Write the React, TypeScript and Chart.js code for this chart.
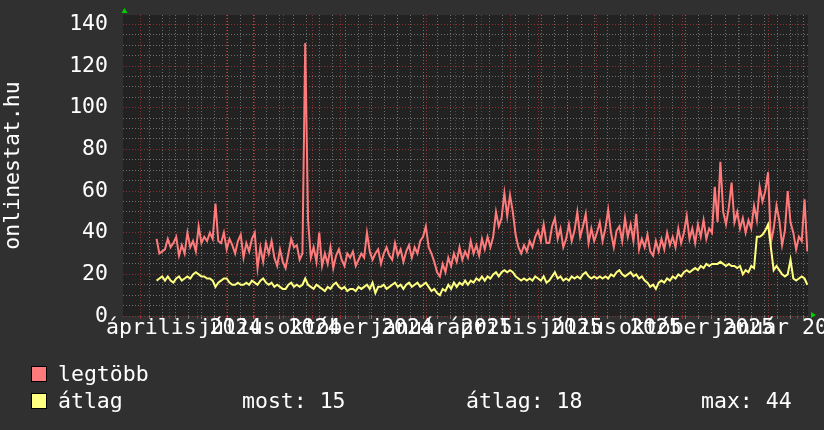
import React, { useEffect, useRef } from 'react';
import { Chart, registerables } from 'chart.js';

Chart.register(...registerables);

// ---- data -------------------------------------------------------------
const SERIES_NAMES = ['legtöbb', 'átlag'];
const AXIS_TITLE = 'onlinestat.hu';
const ORIGIN = Date.UTC(2024, 2, 1); // x = days since 2024-03-01
const FIRST_DAY = 17; // 2024-03-18
const STEP_DAYS = 3;
const X_MIN = -18.9;
const X_MAX = 713.7;
const Y_MAX = 144.5;

const LEGTOBB = [
  37, 30, 31, 32, 37, 33, 35, 38, 29, 34, 30, 40, 33, 36, 31, 43, 35, 38, 36, 40,
  37, 54, 36, 35, 40, 32, 37, 34, 30, 36, 39, 28, 35, 31, 37, 40, 23, 33, 26, 35,
  30, 36, 28, 24, 32, 26, 23, 30, 37, 33, 34, 27, 30, 131, 46, 28, 33, 26, 40, 24,
  30, 25, 33, 23, 29, 32, 27, 24, 30, 28, 31, 24, 27, 30, 28, 40, 31, 27, 30, 32,
  25, 30, 33, 29, 27, 35, 29, 32, 26, 31, 34, 28, 33, 30, 36, 38, 43, 33, 30, 26,
  21, 19, 25, 21, 28, 24, 30, 26, 33, 27, 31, 28, 36, 30, 34, 29, 37, 32, 38, 33,
  38, 50, 43, 47, 59, 48, 58, 50, 39, 33, 30, 34, 31, 36, 33, 38, 41, 36, 44, 35,
  35, 43, 47, 37, 42, 33, 37, 44, 36, 41, 50, 38, 43, 49, 35, 42, 36, 40, 45, 36,
  42, 51, 40, 33, 41, 43, 36, 47, 38, 44, 36, 49, 32, 37, 33, 39, 31, 29, 36, 31,
  37, 32, 40, 34, 38, 33, 42, 35, 40, 48, 37, 42, 35, 44, 38, 46, 37, 42, 40, 62,
  45, 74, 50, 44, 52, 64, 45, 50, 42, 47, 40, 46, 42, 53, 46, 62, 55, 60, 69, 35,
  42, 53, 46, 34, 41, 60, 45, 40, 32, 38, 36, 56, 31,
];

const ATLAG = [
  17, 18, 19, 17, 19, 17, 16, 18, 19, 17, 18, 19, 18, 20, 21, 20, 19, 19, 18, 18,
  17, 14, 16, 17, 18, 18, 16, 15, 15, 16, 15, 15, 16, 15, 17, 16, 15, 17, 18, 16,
  15, 16, 14, 15, 14, 13, 13, 15, 16, 14, 15, 14, 15, 18, 15, 14, 13, 15, 14, 13,
  12, 14, 13, 15, 16, 14, 13, 14, 12, 13, 13, 12, 14, 13, 14, 15, 13, 16, 11, 14,
  14, 15, 13, 14, 15, 16, 14, 15, 13, 15, 16, 14, 15, 16, 14, 15, 16, 14, 12, 13,
  11, 10, 13, 12, 15, 13, 16, 14, 16, 15, 17, 15, 17, 16, 18, 17, 19, 17, 19, 18,
  20, 21, 19, 21, 22, 21, 22, 21, 19, 18, 17, 18, 17, 18, 17, 19, 18, 17, 19, 16,
  17, 19, 21, 18, 19, 17, 18, 17, 19, 18, 19, 18, 20, 21, 19, 18, 19, 18, 19, 18,
  19, 18, 20, 19, 21, 22, 20, 19, 20, 21, 19, 20, 18, 19, 17, 16, 14, 15, 13, 16,
  17, 16, 18, 17, 19, 18, 20, 19, 21, 22, 21, 22, 23, 22, 24, 23, 25, 24, 25, 25,
  25, 26, 25, 24, 25, 24, 24, 23, 24, 20, 22, 21, 24, 23, 38, 38, 39, 41, 44, 33,
  22, 24, 22, 20, 19, 20, 27, 18, 17, 18, 19, 18, 15,
];

const X_LABELS = [
  'április 2024', 'július 2024', 'október 2024', 'január 2025',
  'április 2025', 'július 2025', 'október 2025', 'január 2026',
];
const X_LABEL_MONTHS: [number, number][] = [
  [2024, 3], [2024, 6], [2024, 9], [2025, 0],
  [2025, 3], [2025, 6], [2025, 9], [2026, 0],
];
const Y_GRID = [0, 5, 10, 15, 20, 25, 30, 35, 40, 45, 50, 55, 60, 65, 70, 75, 80, 85, 90, 95, 100, 105, 110, 115, 120, 125, 130, 135, 140];
const Y_LABEL_STEP = 20;
const MINOR_FIRST_DAY = 9; // 2024-03-10
const MINOR_STEP_DAYS = 14;

const STAT_LABELS = ['most', 'átlag', 'max'];
const STAT_VALUES = [15, 18, 44];

// ---- styles -----------------------------------------------------------
const FONT = 'DejaVu Sans Mono';
const FONT_SIZE = 21.5;
const TEXT = '#ffffff';
const RED = '#ff7b7b';
const YELLOW = '#ffff80';
const GRID_MAJOR = 'rgba(170,55,55,0.75)';
const GRID_MINOR = 'rgba(160,160,160,0.6)';

const dayOf = (y: number, m: number, d = 1) => (Date.UTC(y, m, d) - ORIGIN) / 86400000;

type XTick = { value: number; kind: 'major' | 'minor' | 'label'; label: string };

function buildXTicks(): XTick[] {
  const out: XTick[] = [];
  for (let k = 0; k < 30; k++) {
    const v = dayOf(2024, 2 + k, 1);
    if (v >= X_MIN && v <= X_MAX) out.push({ value: v, kind: 'major', label: '' });
  }
  for (let v = MINOR_FIRST_DAY; v <= X_MAX; v += MINOR_STEP_DAYS) {
    out.push({ value: v, kind: 'minor', label: '' });
  }
  X_LABEL_MONTHS.forEach(([y, m], i) => {
    const mid = (dayOf(y, m, 1) + dayOf(y, m + 1, 1)) / 2;
    out.push({ value: mid, kind: 'label', label: X_LABELS[i] });
  });
  return out;
}

const decor = {
  id: 'decor',
  beforeDraw(chart: any) {
    const { ctx, chartArea: a } = chart;
    ctx.save();
    ctx.fillStyle = '#303030';
    ctx.fillRect(0, 0, chart.width, chart.height);
    ctx.fillStyle = '#222222';
    ctx.fillRect(a.left, a.top, a.right - a.left, a.bottom - a.top);
    ctx.restore();
  },
  afterDraw(chart: any) {
    const { ctx, chartArea: a } = chart;
    ctx.save();
    ctx.fillStyle = '#00d000';
    ctx.beginPath();
    ctx.moveTo(a.left - 1.5, a.top - 2);
    ctx.lineTo(a.left + 4.5, a.top - 2);
    ctx.lineTo(a.left + 1.5, a.top - 7);
    ctx.closePath();
    ctx.fill();
    ctx.beginPath();
    ctx.moveTo(a.right + 3, a.bottom - 4);
    ctx.lineTo(a.right + 3, a.bottom + 2);
    ctx.lineTo(a.right + 8, a.bottom - 1);
    ctx.closePath();
    ctx.fill();

    // legend
    ctx.font = `${FONT_SIZE}px "${FONT}"`;
    ctx.textBaseline = 'alphabetic';
    ctx.textAlign = 'left';
    const rows = [
      { color: RED, name: SERIES_NAMES[0], y: 366 },
      { color: YELLOW, name: SERIES_NAMES[1], y: 393 },
    ];
    rows.forEach((r) => {
      ctx.fillStyle = r.color;
      ctx.fillRect(31.5, r.y + 0.5, 15, 15);
      ctx.strokeStyle = '#000000';
      ctx.lineWidth = 1;
      ctx.strokeRect(31.5, r.y + 0.5, 15, 15);
      ctx.fillStyle = TEXT;
      ctx.fillText(r.name, 58, r.y + 15);
    });
    const statX = [242, 466, 701];
    STAT_LABELS.forEach((l, i) => {
      ctx.fillText(`${l}: ${STAT_VALUES[i]}`, statX[i], 393 + 15);
    });
    ctx.restore();
  },
};

export default function App() {
  const ref = useRef<HTMLCanvasElement | null>(null);

  useEffect(() => {
    if (!ref.current) return;
    const xTicks = buildXTicks();
    const toPoints = (arr: number[]) => arr.map((v, i) => ({ x: FIRST_DAY + STEP_DAYS * i, y: v }));
    const xGridColor = (c: any) => {
      const t = xTicks[c.index];
      if (!t) return 'transparent';
      return t.kind === 'major' ? GRID_MAJOR : t.kind === 'minor' ? GRID_MINOR : 'transparent';
    };

    const chart = new Chart(ref.current, {
      type: 'line',
      data: {
        datasets: [
          {
            label: SERIES_NAMES[0],
            data: toPoints(LEGTOBB),
            borderColor: RED,
            backgroundColor: RED,
            borderWidth: 2,
            pointRadius: 0,
            tension: 0,
            order: 2,
          },
          {
            label: SERIES_NAMES[1],
            data: toPoints(ATLAG),
            borderColor: YELLOW,
            backgroundColor: YELLOW,
            borderWidth: 2,
            pointRadius: 0,
            tension: 0,
            order: 1,
          },
        ],
      },
      options: {
        animation: false,
        responsive: false,
        events: [],
        layout: { autoPadding: false, padding: { top: 15, right: 16, bottom: 80, left: 0 } },
        plugins: { legend: { display: false }, tooltip: { enabled: false } },
        scales: {
          x: {
            type: 'linear',
            position: 'bottom',
            min: X_MIN,
            max: X_MAX,
            afterBuildTicks: (scale: any) => {
              scale.ticks = xTicks.map((t) => ({ value: t.value }));
            },
            afterFit: (scale: any) => {
              scale.height = 34;
              scale.paddingLeft = 0;
              scale.paddingRight = 0;
              scale.paddingTop = 0;
              scale.paddingBottom = 0;
            },
            grid: {
              color: xGridColor,
              tickColor: xGridColor,
              lineWidth: 1,
              drawTicks: true,
              tickLength: 3,
            },
            border: { display: false, dash: [1, 2] },
            ticks: {
              autoSkip: false,
              maxRotation: 0,
              minRotation: 0,
              padding: -3,
              color: TEXT,
              font: { family: FONT, size: FONT_SIZE },
              callback: (_v: any, i: number) => xTicks[i]?.label ?? '',
            },
          },
          y: {
            type: 'linear',
            min: 0,
            max: Y_MAX,
            afterBuildTicks: (scale: any) => {
              scale.ticks = Y_GRID.map((v) => ({ value: v }));
            },
            afterFit: (scale: any) => {
              scale.width = 123;
              scale.paddingLeft = 0;
              scale.paddingRight = 0;
              scale.paddingTop = 0;
              scale.paddingBottom = 0;
            },
            grid: {
              color: (c: any) => {
                const v = c.tick?.value ?? 0;
                return v % Y_LABEL_STEP === 0 ? GRID_MAJOR : GRID_MINOR;
              },
              lineWidth: 1,
              drawTicks: false,
            },
            border: { display: false, dash: [1, 2] },
            ticks: {
              autoSkip: false,
              padding: 15,
              color: TEXT,
              font: { family: FONT, size: FONT_SIZE },
              callback: (v: any) => (Number(v) % Y_LABEL_STEP === 0 ? String(v) : ''),
            },
            title: {
              display: true,
              text: AXIS_TITLE,
              color: TEXT,
              font: { family: FONT, size: FONT_SIZE },
              padding: { top: 1, bottom: 0 },
            },
          },
        },
      },
      plugins: [decor],
    } as any);

    return () => chart.destroy();
  }, []);

  return (
    <div style={{ position: 'fixed', left: 0, top: 0, width: 824, height: 430, background: '#303030' }}>
      <canvas ref={ref} width={824} height={430} style={{ display: 'block', width: 824, height: 430 }} />
    </div>
  );
}
